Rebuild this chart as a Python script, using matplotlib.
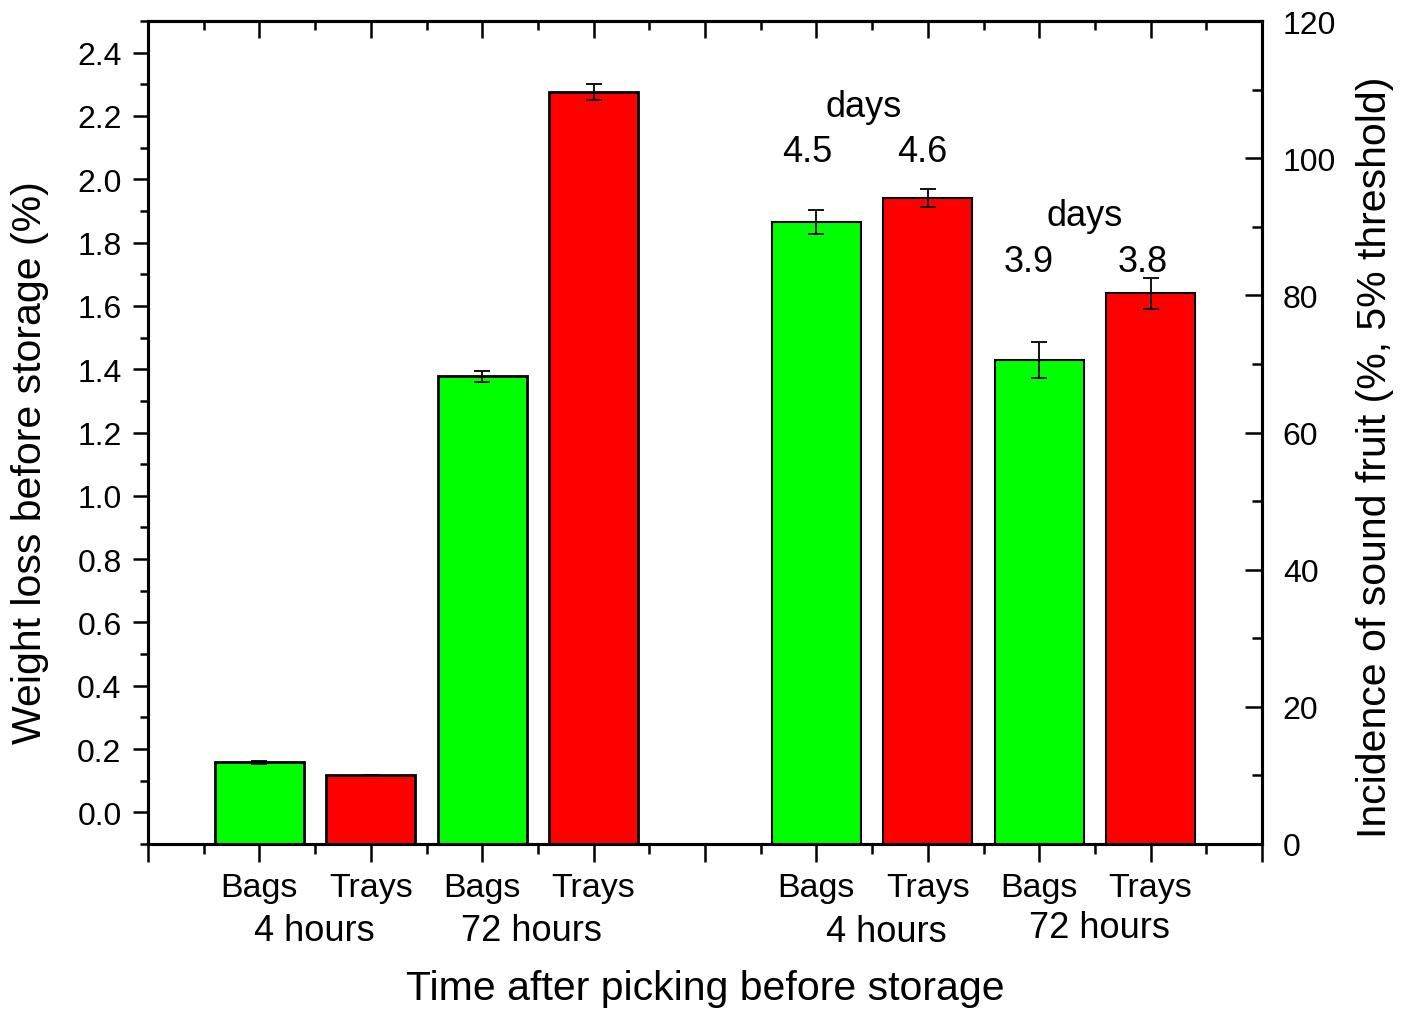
import numpy as np
import matplotlib
matplotlib.use("Agg")
import matplotlib.pyplot as plt
from matplotlib.ticker import MultipleLocator, FormatStrFormatter
import matplotlib.transforms as mtransforms

plt.rcParams['font.family'] = ['Liberation Sans', 'DejaVu Sans']

# weight loss (left axis) at the four handling treatments
pos_loss = [1, 2, 3, 4]
loss = [0.158, 0.117, 1.377, 2.277]
loss_err = [0.004, 0.002, 0.017, 0.025]

# sound fruit incidence (right axis)
pos_sound = [6, 7, 8, 9]
sound = [90.7, 94.2, 70.6, 80.3]
sound_err = [1.75, 1.3, 2.6, 2.3]

colors = ['#00ff00', '#ff0000', '#00ff00', '#ff0000']
tick_names = ['', 'Bags', 'Trays', 'Bags', 'Trays', '', 'Bags', 'Trays', 'Bags', 'Trays', '']

# shelf-life notes above the right-hand bars: (x, y on right axis, text)
day_notes = [(6.42, 107.6, 'days'), (5.92, 100.9, '4.5'), (6.95, 100.9, '4.6'),
             (8.41, 91.7, 'days'), (7.91, 85.0, '3.9'), (8.93, 85.0, '3.8')]
# group names under the tick labels: (x, axes y)
group_notes = [(1.49, -0.1045, '4 hours'), (3.44, -0.1045, '72 hours'),
               (6.63, -0.1065, '4 hours'), (8.54, -0.1015, '72 hours')]

ylo, yhi = -0.1, 2.5

fig = plt.figure(figsize=(14.08, 10.12), dpi=100)
ax = fig.add_axes([148 / 1408, 167 / 1012, 1114 / 1408, 823 / 1012])
ax2 = ax.twinx()

ax.bar(pos_loss, np.array(loss) - ylo, bottom=ylo, width=0.8, color=colors,
       edgecolor='black', linewidth=2, zorder=2)
ax.errorbar(pos_loss, loss, yerr=loss_err, fmt='none', ecolor='black',
            elinewidth=1.3, capsize=6, capthick=1.3, zorder=3)

ax2.bar(pos_sound, sound, width=0.8, color=colors, edgecolor='black',
        linewidth=1.5, zorder=2)
ax2.errorbar(pos_sound, sound, yerr=sound_err, fmt='none', ecolor='black',
             elinewidth=1.3, capsize=6, capthick=1.3, zorder=3)

ax.set_xlim(0, 10)
ax.set_ylim(ylo, yhi)
ax2.set_ylim(0, 120)

for a in (ax, ax2):
    for s in a.spines.values():
        s.set_linewidth(2.2)

ax.set_xticks(range(11))
ax.set_xticklabels(tick_names, fontsize=24.5)
ax.xaxis.set_minor_locator(MultipleLocator(0.5))
ax.tick_params(axis='x', which='both', direction='out', top=False, width=1.8, pad=7)
ax.tick_params(axis='x', which='major', length=13)
ax.tick_params(axis='x', which='minor', length=7)

# top ticks point into the plot
sec = ax.secondary_xaxis('top')
sec.set_xticks(range(11))
sec.set_xticklabels([])
sec.xaxis.set_minor_locator(MultipleLocator(0.5))
sec.tick_params(which='both', direction='in', width=1.8)
sec.tick_params(which='major', length=12)
sec.tick_params(which='minor', length=6.5)
sec.spines['top'].set_linewidth(2.2)

ax.yaxis.set_minor_locator(MultipleLocator(0.1))
ax.yaxis.set_major_formatter(FormatStrFormatter('%.1f'))
ax.set_yticks(np.arange(0, 2.41, 0.2))
ax.tick_params(axis='y', which='both', direction='out', width=1.8, labelsize=23, pad=8)
ax.tick_params(axis='y', which='major', length=11)
ax.tick_params(axis='y', which='minor', length=6)

ax2.yaxis.set_major_locator(MultipleLocator(20))
ax2.yaxis.set_minor_locator(MultipleLocator(10))
ax2.tick_params(axis='y', which='both', direction='in', width=1.8, labelsize=23, pad=15)
ax2.tick_params(axis='y', which='major', length=12)
ax2.tick_params(axis='y', which='minor', length=7)

for x, y, t in day_notes:
    ax2.text(x, y, t, fontsize=26, ha='center', va='center')

blend = mtransforms.blended_transform_factory(ax.transData, ax.transAxes)
for x, y, t in group_notes:
    ax.text(x, y, t, transform=blend, fontsize=26, ha='center', va='center')

ax.text(0.5, -0.175, 'Time after picking before storage', transform=ax.transAxes,
        fontsize=29.5, ha='center', va='center')
ax.text(-0.106, 0.465, 'Weight loss before storage (%)', transform=ax.transAxes,
        fontsize=29.5, ha='center', va='center', rotation=90)
ax.text(1.1015, 0.471, 'Incidence of sound fruit (%, 5% threshold)', transform=ax.transAxes,
        fontsize=29.5, ha='center', va='center', rotation=90)

fig.savefig('out.png', dpi=100)
